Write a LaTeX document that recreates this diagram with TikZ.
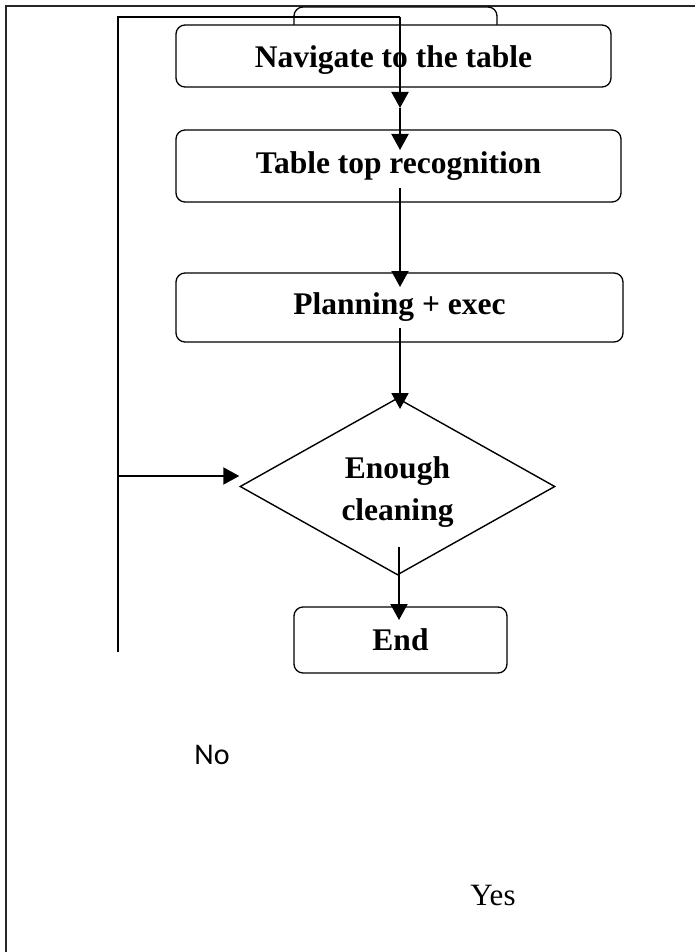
\documentclass[tikz,border=0pt]{standalone}
\usepackage{fontspec}
\setmainfont{Liberation Serif}
\newfontfamily\labelfont{Carlito}
\usetikzlibrary{shapes.geometric,arrows.meta}

\begin{document}
\begin{tikzpicture}[
    x=1pt, y=-1pt,
    box/.style={rectangle, draw, line width=1.3pt, rounded corners=9pt, fill=white, inner sep=0pt, align=center, font=\bfseries\fontsize{31.5}{38}\selectfont},
    decision/.style={diamond, draw, line width=1.4pt, fill=white, inner sep=-6pt, minimum width=315pt, minimum height=177pt, align=center, font=\bfseries\fontsize{31.5}{42}\selectfont},
    arrow/.style={-{Triangle[length=16pt,width=17pt]}, line width=2pt},
    loopline/.style={line width=1.5pt},
    frame/.style={line width=2pt, draw=black!85}
]
\useasboundingbox (0,0) rectangle (695,952);

% Outer frame
\draw[frame] (6,952) -- (6,6) -- (695,6);

% Box hidden behind the first step
\node[box, minimum width=203pt, minimum height=40pt] (hidden) at (395.5,27) {};

% Loop back line
\coordinate (loopbottom) at (118,652);
\coordinate (looptop) at (118,17);
\coordinate (loopjoin) at (118,476);
\coordinate (entry) at (400,17);
\draw[loopline] (loopbottom) -- (looptop) -- (entry);

% Steps
\node[box, minimum width=435pt, minimum height=62pt, text height=30pt] (navigate) at (393.5,56) {Navigate to the table};
\node[box, minimum width=445pt, minimum height=72pt] (recognition) at (398.5,166) {Table top recognition};
\node[box, minimum width=447pt, minimum height=69pt] (planning) at (399.5,307.5) {Planning + exec};

% Decision
\node[decision, text height=75pt] (enough) at (397.5,486.5) {Enough\\cleaning};

% End
\node[box, minimum width=213pt, minimum height=66pt] (end) at (400.5,640) {End};

% Labels
\node[font=\labelfont\fontsize{30}{36}\selectfont] (no) at (212,755) {No};
\node[font=\fontsize{31}{37}\selectfont] (yes) at (493,895) {Yes};

% Arrows
\coordinate (navtip) at (400,108);
\coordinate (rectip) at (400,150);
\coordinate (recout) at (400,188);
\coordinate (plantip) at (400,287);
\coordinate (planout) at (400,328);
\coordinate (dectip) at (400,409);
\coordinate (decout) at (399,547);
\coordinate (endtip) at (399,620);
\draw[arrow] (entry) -- (navtip);
\draw[arrow] (navtip) -- (rectip);
\draw[arrow] (recout) -- (plantip);
\draw[arrow] (planout) -- (dectip);
\draw[arrow] (loopjoin) -- (loopjoin -| enough.west);
\draw[arrow] (decout) -- (endtip);

\end{tikzpicture}
\end{document}
